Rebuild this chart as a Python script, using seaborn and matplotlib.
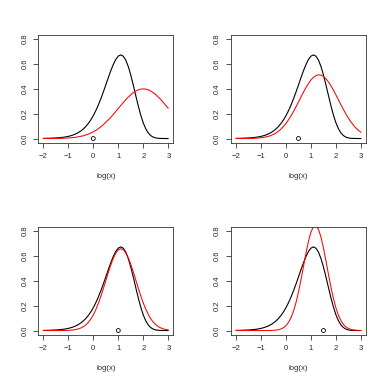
import matplotlib
matplotlib.use("Agg")
import matplotlib.pyplot as plt
import seaborn as sns
import pandas as pd

sns.set_style("ticks")
plt.rcParams['font.family'] = ['Liberation Sans', 'DejaVu Sans']
plt.rcParams['axes.unicode_minus'] = True

# grid of log(x) values where curves were read
log_x = [-2.0, -1.9, -1.8, -1.7, -1.6, -1.5, -1.4, -1.3, -1.2, -1.1,
         -1.0, -0.9, -0.8, -0.7, -0.6, -0.5, -0.4, -0.3, -0.2, -0.1,
         0.0, 0.1, 0.2, 0.3, 0.4, 0.5, 0.6, 0.7, 0.8, 0.9,
         1.0, 1.1, 1.2, 1.3, 1.4, 1.5, 1.6, 1.7, 1.8, 1.9,
         2.0, 2.1, 2.2, 2.3, 2.4, 2.5, 2.6, 2.7, 2.8, 2.9, 3.0]

# target density (black, same in all panels)
target = [0.0011, 0.0014, 0.0019, 0.0025, 0.0034, 0.0044, 0.0059, 0.0077, 0.0101, 0.0132,
          0.0172, 0.0224, 0.0289, 0.0373, 0.0477, 0.0608, 0.0770, 0.0969, 0.1210, 0.1499,
          0.1839, 0.2235, 0.2686, 0.3189, 0.3734, 0.4309, 0.4891, 0.5450, 0.5953, 0.6357,
          0.6627, 0.6721, 0.6616, 0.6298, 0.5779, 0.5092, 0.4289, 0.3440, 0.2611, 0.1865,
          0.1246, 0.0773, 0.0442, 0.0231, 0.0109, 0.0046, 0.0017, 0.0006, 0.0002, 0.0000, 0.0000]

# approximations (red), one per panel
approx_1 = [0.0001, 0.0002, 0.0003, 0.0004, 0.0006, 0.0009, 0.0012, 0.0017, 0.0024, 0.0033,
            0.0044, 0.0060, 0.0079, 0.0104, 0.0136, 0.0175, 0.0224, 0.0283, 0.0355, 0.0440,
            0.0540, 0.0656, 0.0790, 0.0940, 0.1109, 0.1295, 0.1497, 0.1714, 0.1942, 0.2179,
            0.2420, 0.2661, 0.2897, 0.3123, 0.3332, 0.3521, 0.3683, 0.3814, 0.3910, 0.3970,
            0.3989, 0.3970, 0.3910, 0.3814, 0.3683, 0.3521, 0.3332, 0.3123, 0.2897, 0.2661, 0.2420]
approx_2 = [0.0001, 0.0001, 0.0002, 0.0003, 0.0005, 0.0007, 0.0012, 0.0018, 0.0027, 0.0041,
            0.0061, 0.0088, 0.0126, 0.0178, 0.0246, 0.0334, 0.0448, 0.0589, 0.0763, 0.0973,
            0.1219, 0.1503, 0.1823, 0.2174, 0.2551, 0.2944, 0.3343, 0.3733, 0.4100, 0.4430,
            0.4709, 0.4923, 0.5062, 0.5121, 0.5095, 0.4987, 0.4801, 0.4546, 0.4235, 0.3880,
            0.3497, 0.3101, 0.2704, 0.2319, 0.1957, 0.1624, 0.1326, 0.1065, 0.0841, 0.0654, 0.0500]
approx_3 = [0.0000, 0.0000, 0.0000, 0.0000, 0.0000, 0.0001, 0.0001, 0.0003, 0.0005, 0.0009,
            0.0016, 0.0028, 0.0048, 0.0079, 0.0127, 0.0200, 0.0304, 0.0452, 0.0653, 0.0918,
            0.1257, 0.1673, 0.2168, 0.2735, 0.3356, 0.4009, 0.4659, 0.5271, 0.5803, 0.6217,
            0.6482, 0.6577, 0.6495, 0.6242, 0.5837, 0.5312, 0.4706, 0.4056, 0.3402, 0.2778,
            0.2207, 0.1706, 0.1284, 0.0940, 0.0670, 0.0465, 0.0314, 0.0206, 0.0132, 0.0082, 0.0050]
approx_4 = [0.0000, 0.0000, 0.0000, 0.0000, 0.0000, 0.0000, 0.0000, 0.0000, 0.0000, 0.0000,
            0.0000, 0.0001, 0.0001, 0.0003, 0.0008, 0.0016, 0.0034, 0.0067, 0.0126, 0.0228,
            0.0394, 0.0651, 0.1028, 0.1553, 0.2241, 0.3094, 0.4084, 0.5155, 0.6221, 0.7178,
            0.7920, 0.8355, 0.8428, 0.8129, 0.7497, 0.6611, 0.5574, 0.4494, 0.3464, 0.2554,
            0.1800, 0.1213, 0.0782, 0.0481, 0.0284, 0.0160, 0.0086, 0.0044, 0.0022, 0.0010, 0.0005]

# expansion points (open circles at y = 0)
points = [0.0, 0.5, 1.0, 1.5]

x_ticks = [-2, -1, 0, 1, 2, 3]
y_ticks = [0.0, 0.2, 0.4, 0.6, 0.8]
y_tick_labels = ["0.0", "0.2", "0.4", "0.6", "0.8"]

W, H = 381, 382
fig = plt.figure(figsize=(W / 100, H / 100), dpi=100)

# panel boxes in pixels: (left, top, right, bottom)
boxes = [(38.3, 35.0, 173.3, 142.5), (231.0, 35.0, 366.0, 142.5),
         (38.3, 227.0, 173.3, 334.5), (231.0, 227.0, 366.0, 334.5)]
approxes = [approx_1, approx_2, approx_3, approx_4]

FS = 5.5
for (l, t, r, b), ap, pt in zip(boxes, approxes, points):
    ax = fig.add_axes([l / W, (H - b) / H, (r - l) / W, (b - t) / H])
    df = pd.DataFrame({"x": log_x, "target": target, "approx": ap})
    sns.lineplot(data=df, x="x", y="target", ax=ax, color="black", lw=0.8)
    sns.lineplot(data=df, x="x", y="approx", ax=ax, color="#ff0000", lw=0.75)
    sns.scatterplot(x=[pt], y=[0.0], ax=ax, marker="o", s=8,
                    facecolor="none", edgecolor="black", linewidth=0.6, zorder=5)
    ax.set_xlim(-2.2, 3.2)
    ax.set_ylim(-0.032, 0.832)
    ax.set_xticks(x_ticks)
    ax.set_xticklabels([str(v).replace("-", "\u2212") for v in x_ticks])
    ax.set_yticks(y_ticks)
    ax.set_yticklabels(y_tick_labels, rotation=90, va="center")
    ax.tick_params(axis="both", direction="out", length=3.6, width=0.6,
                   labelsize=FS, color="#333333", pad=3.6)
    for s in ax.spines.values():
        s.set_visible(True)
        s.set_linewidth(0.6)
        s.set_color("#333333")
    ax.set_xlabel("log(x)", fontsize=FS, labelpad=10)
    ax.set_ylabel("")
    ax.grid(False)

fig.savefig("out.png", dpi=100)
